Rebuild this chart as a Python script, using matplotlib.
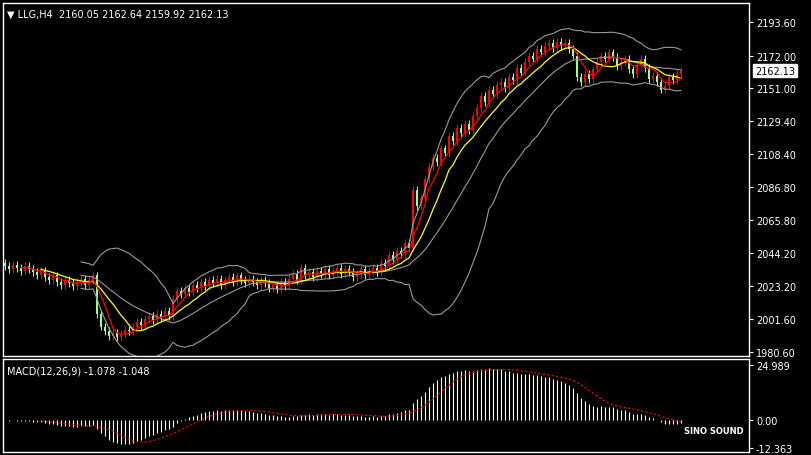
import numpy as np
import matplotlib
matplotlib.use("Agg")
import matplotlib.pyplot as plt

closes = [2036,2034,2037,2035,2033,2036,2034,
 2032,2030,2033,2029,2027,2030,2026,2024,2027,2025,2023,
 2026,2028,2024,2027,2030,
 2005,1997,
 1994,1991,1993,1990,1992,1995,1994,1997,
 2000,1998,2002,2004,2001,2005,2003,2007,2004,
 2015,2020,2018,2022,2019,
 2024,2022,2026,2023,2027,2025,2028,2024,2027,2029,2026,2030,2027,2025,2028,2026,2024,2027,2025,
 2022,2024,2021,2026,2023,2028,2031,2027,2035,2030,
 2032,2029,2033,2031,2034,2030,2033,2035,2031,2034,2032,2029,2031,2034,2030,2033,2035,2032,2038,2036,
 2043,2040,2046,2044,2051,2048,
 2085,
 2075,2080,2092,2100,2106,2103,2112,2109,
 2120,2117,2125,2122,2128,2124,2133,2138,
 2146,2142,2150,2147,2153,2155,2151,2158,2156,
 2164,2161,2168,2172,2170,2176,2174,2178,2180,2177,
 2181,2178,2180,2176,2172,2158,
 2155,2160,2157,2163,2168,2172,2170,
 2174,2171,2165,2168,2170,2163,2160,2166,
 2170,2164,2157,2159,2155,2150,2152,2158,2156,2160,2162.13]
first_open = 2038
price_ticks = [2193.60,2172.00,2151.00,2129.40,2108.40,2086.80,2065.80,2044.20,2023.20,2001.60,1980.60]

c = np.array(closes, float)
o = np.concatenate([[first_open], c[:-1]])
hi = np.maximum(o, c) + 2.5
lo = np.minimum(o, c) - 2.5
n = len(c)
x = np.arange(n)

def sma(a, p):
    out = np.full(len(a), np.nan)
    for i in range(p-1, len(a)):
        out[i] = a[i-p+1:i+1].mean()
    return out
def ema(a, p):
    k = 2/(p+1); out = np.empty(len(a)); out[0] = a[0]
    for i in range(1, len(a)):
        out[i] = a[i]*k + out[i-1]*(1-k)
    return out

ma5 = sma(c, 5); ma10 = sma(c, 10)
mid = sma(c, 20)
sd = np.array([np.nan if i < 19 else c[i-19:i+1].std() for i in range(n)])
up = mid + 2*sd; dn = mid - 2*sd
macd = ema(c, 12) - ema(c, 26)
sig = sma(macd, 9)

W, H = 811, 456
fig = plt.figure(figsize=(W/100, H/100), dpi=100, facecolor='black')
def rect(l, t, r, b):
    return [l/W, 1-b/H, (r-l)/W, (b-t)/H]
ax = fig.add_axes(rect(3, 4, 749, 357), facecolor='black')
ax2 = fig.add_axes(rect(3, 360, 749, 453), facecolor='black')

for a in (ax, ax2):
    for s in a.spines.values():
        s.set_color('white'); s.set_linewidth(1)
    a.set_xlim(-0.5, 186)
    a.set_xticks([])
    a.yaxis.tick_right()
    a.tick_params(axis='y', colors='white', labelsize=7, length=3, pad=2)

bull = c >= o
cols = np.where(bull, '#ff0000', '#98fb98')
ax.vlines(x, lo, hi, color=cols, lw=0.8)
ax.bar(x, np.maximum(np.abs(c-o), 0.4), bottom=np.minimum(o, c), width=0.7, color=cols)
ax.plot(x, up, color='#9a9a9a', lw=0.8)
ax.plot(x, dn, color='#9a9a9a', lw=0.8)
ax.plot(x, mid, color='#9a9a9a', lw=0.8)
ax.plot(x, ma10, color='#ffff00', lw=0.9)
ax.plot(x, ma5, color='#ff0000', lw=0.9)
ax.set_ylim(1978.0, 2205.9)
ax.set_yticks(price_ticks)
ax.set_yticklabels([f"{v:.2f}" for v in price_ticks])
ax.text(1.008, (2162.13-1978)/(2205.9-1978), "2162.13", transform=ax.transAxes,
        fontsize=7, color='black', va='center', ha='left',
        bbox=dict(facecolor='white', edgecolor='white', pad=1.2))
ax.text(0.005, 0.985, "▼ LLG,H4  2160.05 2162.64 2159.92 2162.13", transform=ax.transAxes,
        fontsize=7, color='white', va='top', ha='left')

ax2.vlines(x, 0, macd, color='white', lw=0.8)
ax2.plot(x, sig, color='red', lw=0.8, ls=(0, (2, 2)))
ax2.set_ylim(-14.3, 27.7)
ax2.set_yticks([24.989, 0, -12.363])
ax2.set_yticklabels(["24.989", "0.00", "-12.363"])
ax2.text(0.005, 0.93, "MACD(12,26,9) -1.078 -1.048", transform=ax2.transAxes,
         fontsize=7, color='white', va='top', ha='left')
fig.text(744/W, 1-432/H, "SINO SOUND", fontsize=6, color='white', weight='bold', ha='right', va='center')

fig.savefig("out.png", dpi=100, facecolor='black')
